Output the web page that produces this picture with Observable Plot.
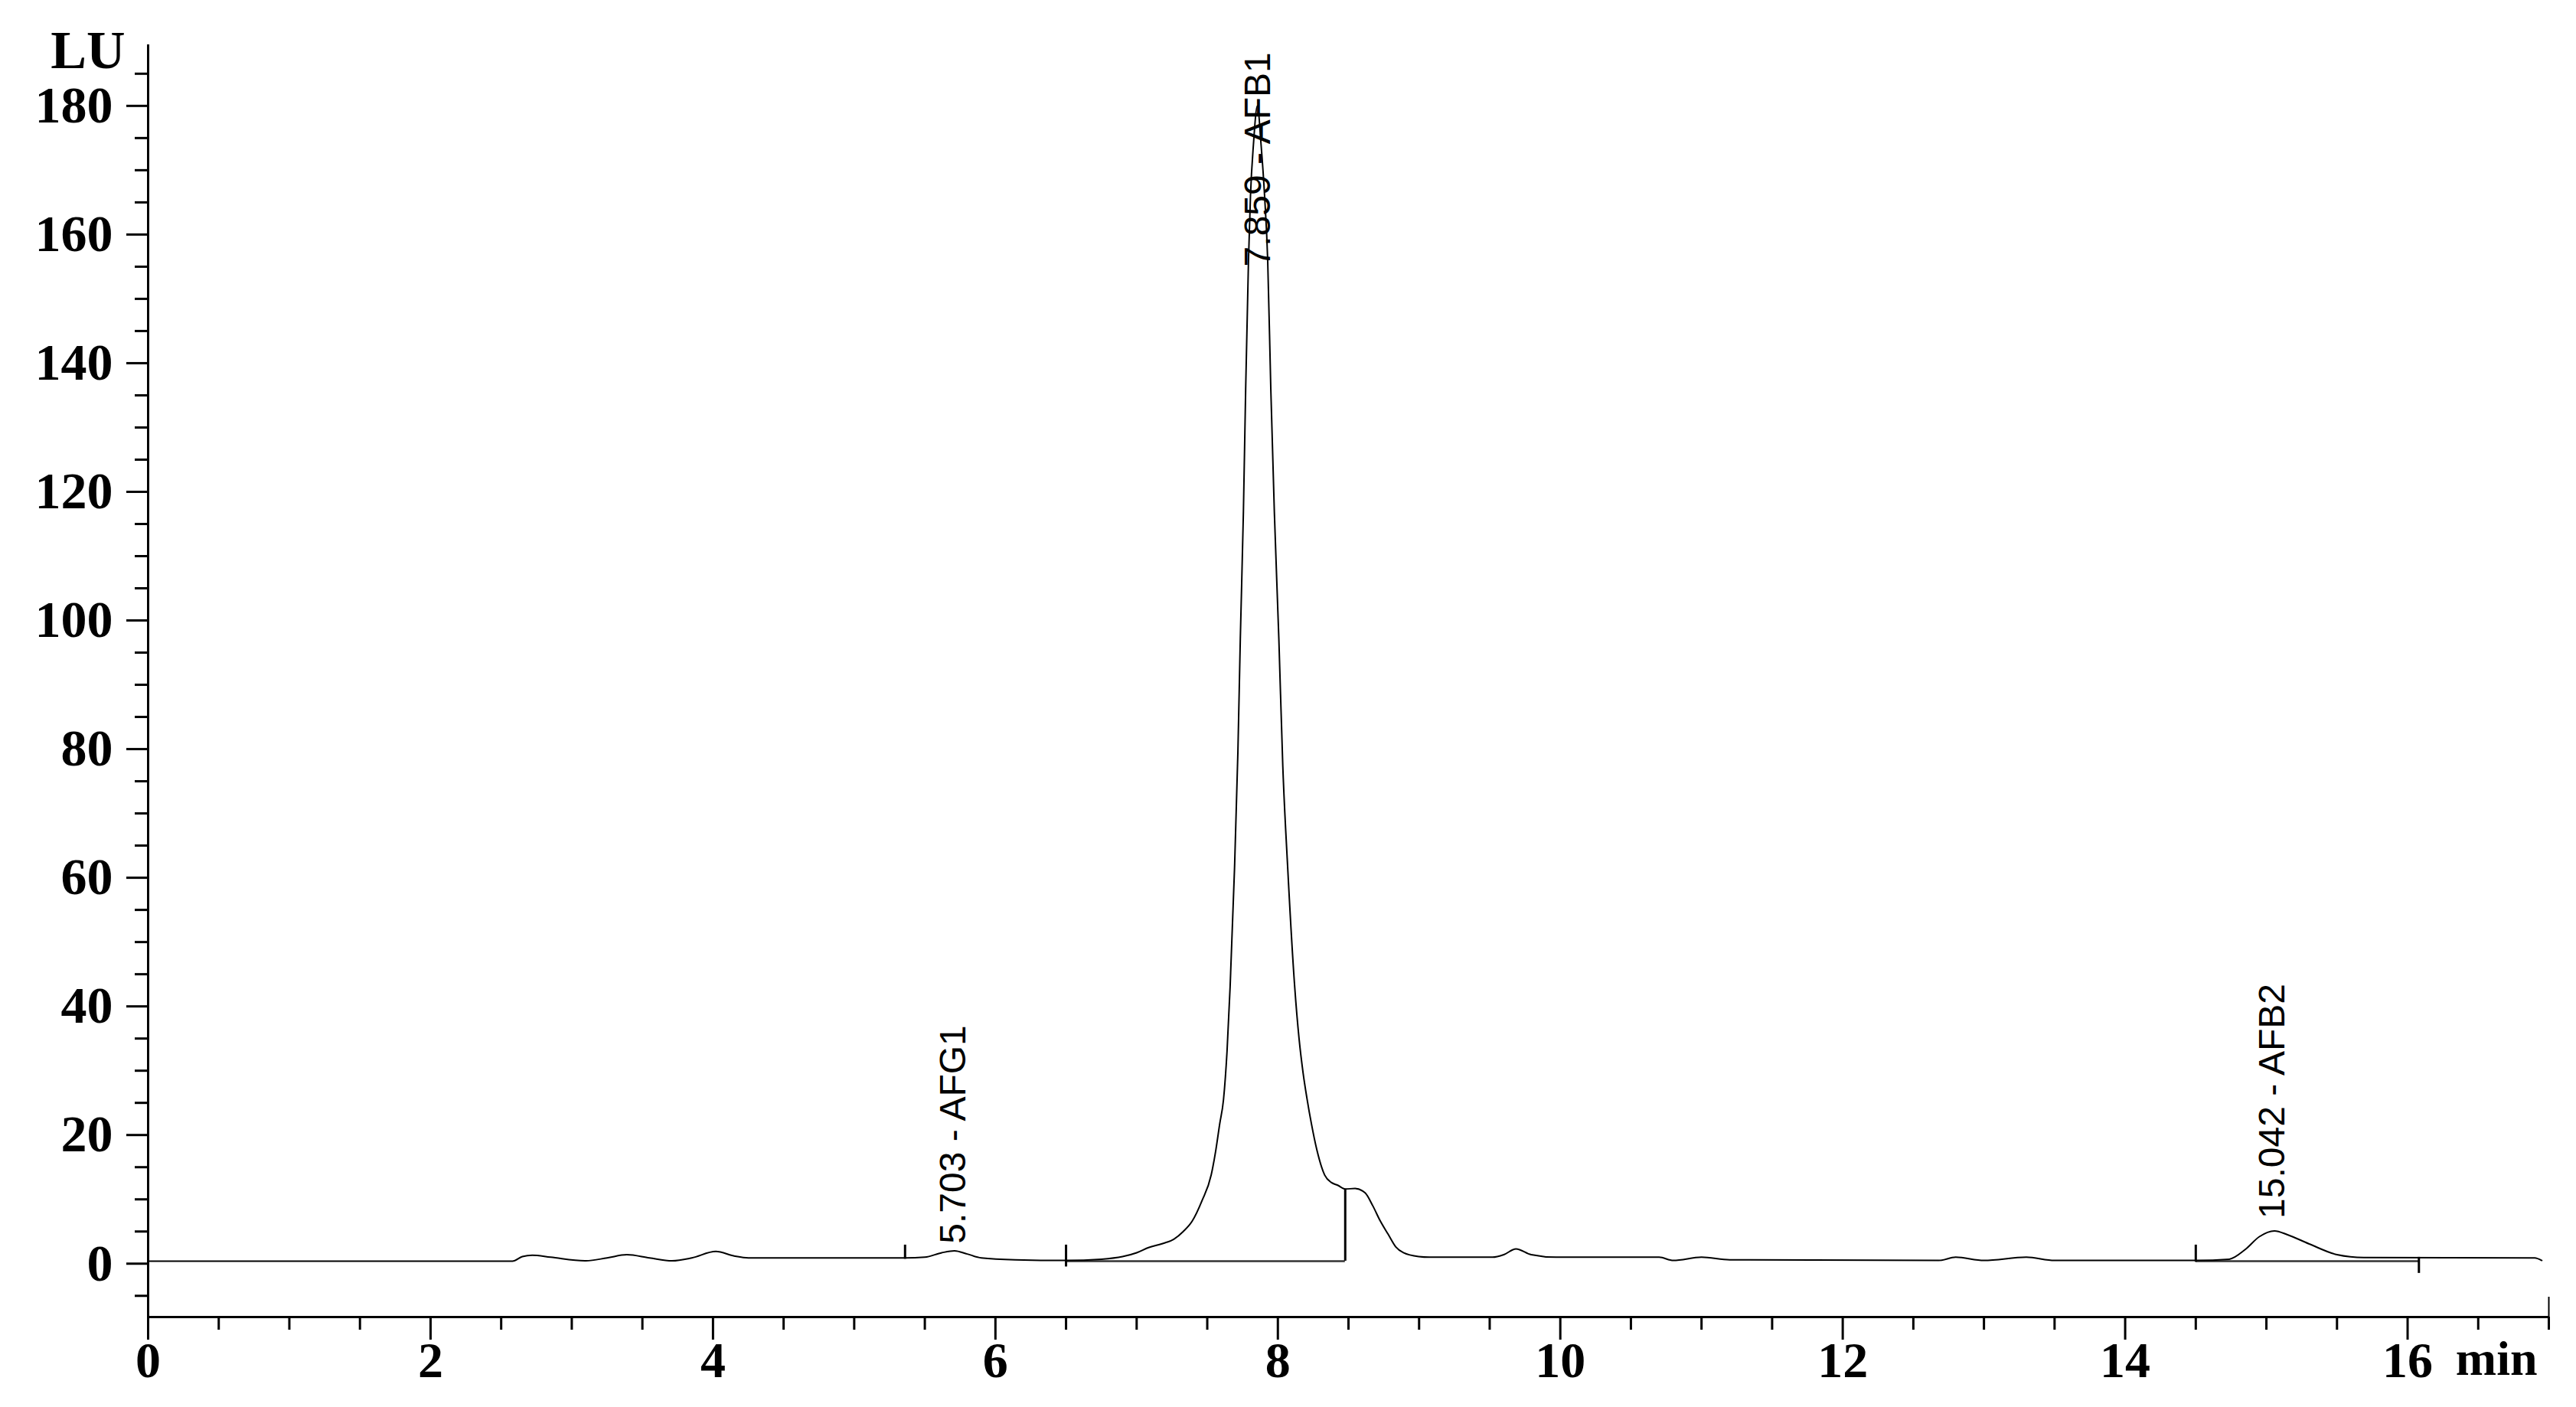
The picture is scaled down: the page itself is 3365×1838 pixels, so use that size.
<!DOCTYPE html>
<html>
<head>
<meta charset="utf-8">
<script src="https://cdn.jsdelivr.net/npm/d3@7"></script>
<script src="https://cdn.jsdelivr.net/npm/@observablehq/plot@0.6"></script>
<style>
  html, body { margin: 0; padding: 0; background: #fff; }
</style>
</head>
<body>
<div id="chart"></div>
<script>
// Chromatogram trace (retention time in min, signal in LU)
const time = [
  0, 2.58, 2.65, 2.72, 2.85, 3.1, 3.25, 3.39, 3.55, 3.71,
  3.85, 4.02, 4.15, 4.25, 5.36, 5.5, 5.62, 5.71, 5.8, 5.9,
  6.14, 6.5, 6.75, 6.9, 7.0, 7.084, 7.18, 7.263, 7.33, 7.393,
  7.463, 7.528, 7.561, 7.588, 7.615, 7.64, 7.662, 7.693, 7.717, 7.734,
  7.756, 7.772, 7.792, 7.806, 7.827, 7.855, 7.881, 7.906, 7.928, 7.95,
  7.975, 8.007, 8.035, 8.07, 8.119, 8.15, 8.179, 8.206, 8.238, 8.276,
  8.331, 8.38, 8.423, 8.477, 8.547, 8.618, 8.672, 8.726, 8.78, 8.835,
  8.889, 8.997, 9.073, 9.52, 9.6, 9.686, 9.794, 9.97, 10.7, 10.8,
  11.0, 11.2, 12.68, 12.8, 13.0, 13.3, 13.5, 14.5, 14.737, 14.85,
  14.95, 15.057, 15.15, 15.3, 15.5, 15.69, 16.9, 16.95
];
const signal = [
  0.4, 0.4, 1.1, 1.3, 1.0, 0.45, 0.9, 1.4, 0.9, 0.45,
  0.9, 1.9, 1.2, 0.9, 0.9, 1.0, 1.7, 2.0, 1.5, 0.9,
  0.6, 0.5, 0.7, 1.1, 1.7, 2.5, 3.1, 3.8, 5.0, 6.6,
  9.8, 13.8, 17.7, 21.7, 25.5, 33, 43.1, 61.4, 79.6, 97.1,
  116.9, 136, 156, 166, 174, 180, 174, 166, 156, 136,
  116.9, 97.1, 77.3, 61.4, 43.1, 35, 29.6, 25.7, 21.7, 17.7,
  13.8, 12.6, 12.2, 11.6, 11.7, 11.0, 9.0, 6.6, 4.6, 2.6,
  1.7, 1.1, 1.0, 1.0, 1.4, 2.3, 1.4, 1.0, 1.0, 0.5,
  1.0, 0.6, 0.5, 1.0, 0.5, 1.0, 0.5, 0.5, 0.7, 2.2,
  4.2, 5.1, 4.5, 3.1, 1.4, 0.95, 0.9, 0.5
];

// Peak annotations
const peakTimes = [5.703, 7.859, 15.042];
const peakNames = ["AFG1", "AFB1", "AFB2"];
const peakLabelStart = [3.1, 155, 7.0];

// Integration baseline segments
const baseStart = [6.5, 14.5];
const baseEnd = [8.477, 16.08];
const baseLevel = [0.4, 0.4];

// Integration event markers
const markerTimes = [5.36, 6.5, 8.477, 14.5, 16.08];
const markerLow = [0.7, -0.5, 0.4, 0.25, -1.5];
const markerHigh = [2.9, 2.9, 11.6, 2.9, 1.0];

// Axes
const xDomain = [0, 17];
const yDomain = [-8.3, 189.5];
const xMajorTicks = [0, 2, 4, 6, 8, 10, 12, 14, 16];
const xMinorTicks = d3.range(0.5, 17.01, 0.5).filter(v => v % 2 !== 0);
const yMajorTicks = [0, 20, 40, 60, 80, 100, 120, 140, 160, 180];
const yMinorTicks = d3.range(-5, 186, 5).filter(v => v % 20 !== 0);

const trace = time.map((t, i) => ({t, v: signal[i]}));
const peaks = peakTimes.map((t, i) => ({t, y: peakLabelStart[i], label: `${t.toFixed(3)} - ${peakNames[i]}`}));
const baselines = baseStart.map((s, i) => ({x1: s, x2: baseEnd[i], y: baseLevel[i]}));
const markers = markerTimes.map((t, i) => ({t, lo: markerLow[i], hi: markerHigh[i]}));

const serif = "'Liberation Serif', 'Times New Roman', serif";
const sans = "'Liberation Sans', Arial, sans-serif";

const chart = Plot.plot({
  width: 3365,
  height: 1838,
  marginLeft: 193,
  marginRight: 36,
  marginTop: 58,
  marginBottom: 118,
  x: {domain: xDomain},
  y: {domain: yDomain},
  style: {fontFamily: serif, fontWeight: "bold", background: "white", color: "black"},
  marks: [
    // axes
    Plot.axisY(yMinorTicks, {tickSize: 17, text: null, strokeWidth: 3, label: null}),
    Plot.axisY(yMajorTicks, {tickSize: 28, tickPadding: 18, tickFormat: d => String(d), fontSize: 68, fontWeight: "bold", fontFamily: serif, strokeWidth: 3, label: null}),
    Plot.axisX(xMinorTicks, {tickSize: 17, text: null, strokeWidth: 3, label: null}),
    Plot.axisX(xMajorTicks, {tickSize: 30, tickPadding: 2, tickFormat: d => String(d), fontSize: 66, fontWeight: "bold", fontFamily: serif, strokeWidth: 3, label: null}),
    Plot.ruleX([xDomain[0]], {strokeWidth: 3, stroke: "black"}),
    Plot.ruleY([yDomain[0]], {strokeWidth: 3, stroke: "black"}),
    Plot.ruleX([xDomain[1]], {y1: yDomain[0], y2: -5.2, strokeWidth: 2, stroke: "black"}),
    // axis titles
    Plot.text(["LU"], {frameAnchor: "top-left", textAnchor: "end", lineAnchor: "bottom", dx: -30, dy: 30, fontSize: 70, fontWeight: "bold", fontFamily: serif, fill: "black"}),
    Plot.text(["min"], {frameAnchor: "bottom-right", textAnchor: "end", lineAnchor: "bottom", dx: -15, dy: 75, fontSize: 64, fontWeight: "bold", fontFamily: serif, fill: "black"}),
    // integration baselines and markers
    Plot.ruleY(baselines, {x1: "x1", x2: "x2", y: "y", stroke: "#333", strokeWidth: 2.5}),
    Plot.ruleX(markers, {x: "t", y1: "lo", y2: "hi", stroke: "black", strokeWidth: 3}),
    // trace
    Plot.line(trace, {x: "t", y: "v", curve: "monotone-x", stroke: "black", strokeWidth: 2}),
    // peak labels
    Plot.text(peaks, {x: "t", y: "y", text: "label", rotate: -90, textAnchor: "start", lineAnchor: "middle", fontSize: 48, fontWeight: "normal", fontFamily: sans, fill: "black"})
  ]
});
document.getElementById("chart").appendChild(chart);
</script>
</body>
</html>
